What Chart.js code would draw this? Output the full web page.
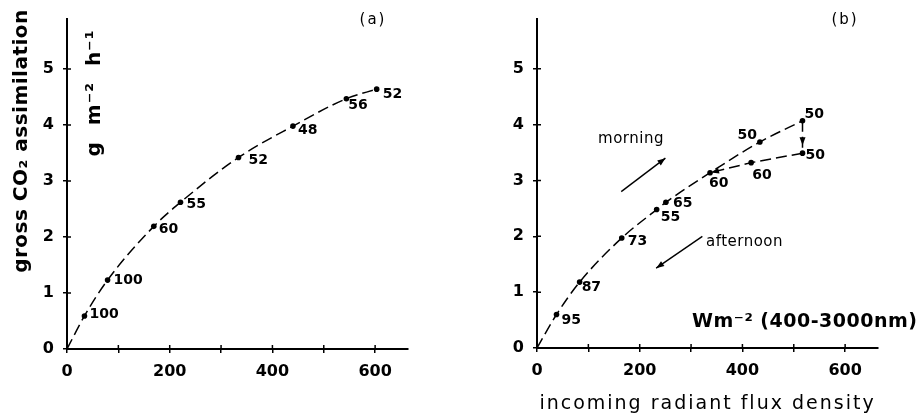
<!DOCTYPE html>
<html>
<head>
<meta charset="utf-8">
<script src="https://cdn.jsdelivr.net/npm/chart.js@4.4.1/dist/chart.umd.min.js"></script>
<style>
  html, body { margin: 0; padding: 0; background: #fff; }
  #wrap { position: relative; width: 920px; height: 419px; }
  canvas { position: absolute; top: 0; }
  #chartA { left: 0; }
  #chartB { left: 460px; }
</style>
</head>
<body>
<div id="wrap">
  <canvas id="chartA" width="460" height="419"></canvas>
  <canvas id="chartB" width="460" height="419"></canvas>
</div>
<script>
// ---- shared axis ticks ----
const xTickValues = [0, 100, 200, 300, 400, 500, 600];
const xTickLabels = ['0', '', '200', '', '400', '', '600'];
const yTickValues = [0, 1, 2, 3, 4, 5];
const yTickLabels = ['0', '1', '2', '3', '4', '5'];

// ---- panel (a): radiant flux (W m-2) vs gross CO2 assimilation (g m-2 h-1) ----
const fluxA = [34, 79, 169, 221, 334, 440, 544, 603];
const co2A  = [0.59, 1.23, 2.19, 2.62, 3.42, 3.98, 4.47, 4.64];
const tagsA = ['100', '100', '60', '55', '52', '48', '56', '52'];

// ---- panel (b): one day, morning rise and afternoon return ----
const fluxB = [38, 83, 165, 233, 251, 337, 434, 517, 517, 417];
const co2B  = [0.60, 1.18, 1.97, 2.48, 2.61, 3.14, 3.69, 4.07, 3.49, 3.32];
const tagsB = ['95', '87', '73', '55', '65', '60', '50', '50', '50', '60'];
const morningIdxB   = [0, 1, 2, 3, 4, 5, 6, 7];  // order along the morning branch
const dropIdxB      = [7, 8];                     // midday drop
const afternoonIdxB = [8, 9, 5];                  // afternoon branch back down

// curves start at the origin
const curveStart = { x: 0, y: 0 };

const FONT = '"DejaVu Sans", sans-serif';
const pts = (xs, ys, idx) => (idx || xs.map((_, i) => i)).map(i => ({ x: xs[i], y: ys[i] }));

// label offsets (px) and alignment for the numbers beside each point
const tagPlaceA = [[5,-2,'left'],[6,0,'left'],[5,3,'left'],[6,2,'left'],[10,3,'left'],[5,4,'left'],[2,7,'left'],[6,5,'left']];
const tagPlaceB = [[5,6,'left'],[2,5,'left'],[6,3,'left'],[4,8,'left'],[7,1,'left'],[-1,11,'left'],[-3,-7,'right'],[2,-6,'left'],[3,2,'left'],[1,13,'left']];

// draws crossing tick marks, point numbers, arrows and free text
const decorations = {
  id: 'decorations',
  afterDraw(chart, args, opts) {
    const ctx = chart.ctx;
    const xs = chart.scales.x, ys = chart.scales.y;
    const area = chart.chartArea;
    ctx.save();
    ctx.strokeStyle = '#000';
    ctx.fillStyle = '#000';
    // inner half of the crossing tick marks
    ctx.lineWidth = 1.5;
    ctx.beginPath();
    xTickValues.forEach(v => {
      const p = xs.getPixelForValue(v);
      if (v > 0) { ctx.moveTo(p, area.bottom); ctx.lineTo(p, area.bottom - 4); }
    });
    yTickValues.forEach(v => {
      const p = ys.getPixelForValue(v);
      if (v > 0) { ctx.moveTo(area.left, p); ctx.lineTo(area.left + 4, p); }
    });
    ctx.stroke();

    // numbers beside the points
    const meta = chart.getDatasetMeta(opts.pointDataset);
    ctx.font = 'bold 14px ' + FONT;
    ctx.textBaseline = 'middle';
    meta.data.forEach((el, i) => {
      const [dx, dy, align] = opts.place[i];
      ctx.textAlign = align;
      ctx.fillText(opts.tags[i], el.x + dx, el.y + dy);
    });

    // arrows
    const head = (x1, y1, x2, y2, len, half) => {
      const a = Math.atan2(y2 - y1, x2 - x1);
      ctx.beginPath();
      ctx.moveTo(x2, y2);
      ctx.lineTo(x2 - len * Math.cos(a) + half * Math.sin(a), y2 - len * Math.sin(a) - half * Math.cos(a));
      ctx.lineTo(x2 - len * Math.cos(a) - half * Math.sin(a), y2 - len * Math.sin(a) + half * Math.cos(a));
      ctx.closePath();
      ctx.fill();
    };
    (opts.arrows || []).forEach(ar => {
      const x1 = xs.getPixelForValue(ar.from[0]), y1 = ys.getPixelForValue(ar.from[1]);
      let x2 = xs.getPixelForValue(ar.to[0]), y2 = ys.getPixelForValue(ar.to[1]);
      if (ar.stop) {
        const d = Math.hypot(x2 - x1, y2 - y1);
        x2 -= (x2 - x1) / d * ar.stop; y2 -= (y2 - y1) / d * ar.stop;
      }
      if (ar.line) {
        ctx.lineWidth = 1.4;
        ctx.setLineDash([]);
        ctx.beginPath(); ctx.moveTo(x1, y1); ctx.lineTo(x2, y2); ctx.stroke();
      }
      head(x1, y1, x2, y2, 8, 3);
    });

    // free text
    (opts.texts || []).forEach(t => {
      let x, y;
      if (t.data) { x = xs.getPixelForValue(t.data[0]); y = ys.getPixelForValue(t.data[1]); }
      else if (t.centerX) { x = (area.left + area.right) / 2; y = t.y; }
      else { x = t.px[0]; y = t.px[1]; }
      ctx.save();
      ctx.translate(x, y);
      if (t.rot) ctx.rotate(t.rot * Math.PI / 180);
      ctx.font = t.font;
      if (t.spacing) ctx.letterSpacing = t.spacing;
      ctx.textAlign = t.align || 'center';
      ctx.textBaseline = 'middle';
      ctx.fillText(t.text, 0, 0);
      ctx.restore();
    });
    ctx.restore();
  }
};

function dashed(data, tension) {
  return {
    data, showLine: true, borderColor: '#000', borderWidth: 1.5, borderDash: [11, 5],
    pointRadius: 0, pointHoverRadius: 0, tension: tension, cubicInterpolationMode: tension ? 'monotone' : 'default', fill: false
  };
}

function makeChart(canvasId, datasets, panel) {
  return new Chart(document.getElementById(canvasId), {
    type: 'scatter',
    data: { datasets },
    plugins: [decorations],
    options: {
      responsive: false,
      animation: false,
      devicePixelRatio: 1,
      events: [],
      layout: { padding: { left: 0, top: panel.top, right: panel.right, bottom: 0 } },
      plugins: {
        legend: { display: false },
        tooltip: { enabled: false },
        decorations: panel.deco
      },
      scales: {
        x: {
          type: 'linear', min: 0, max: 664,
          afterBuildTicks: s => { s.ticks = xTickValues.map(v => ({ value: v })); },
          afterFit: s => { s.height = panel.xHeight; },
          border: { display: true, color: '#000', width: 2 },
          grid: { display: true, drawOnChartArea: false, drawTicks: true, tickLength: 4, color: '#000', lineWidth: 1.5 },
          ticks: {
            autoSkip: false, maxRotation: 0, padding: 9, color: '#000',
            font: { family: FONT, weight: 'bold', size: 16 },
            callback: (v, i) => xTickLabels[i]
          }
        },
        y: {
          type: 'linear', min: 0, max: 5.9,
          afterBuildTicks: s => { s.ticks = yTickValues.map(v => ({ value: v })); },
          afterFit: s => { s.width = panel.yWidth; },
          border: { display: true, color: '#000', width: 2 },
          grid: { display: true, drawOnChartArea: false, drawTicks: true, tickLength: 4, color: '#000', lineWidth: 1.5 },
          ticks: {
            padding: 9, color: '#000',
            font: { family: FONT, weight: 'bold', size: 16 },
            callback: (v, i) => yTickLabels[i]
          }
        }
      }
    }
  });
}

// ---- panel (a) ----
const pointsA = pts(fluxA, co2A);
makeChart('chartA', [
  dashed([curveStart, ...pointsA], 0.4),
  { data: pointsA, pointRadius: 2.8, pointBackgroundColor: '#000', pointBorderWidth: 0, showLine: false }
], {
  top: 11, right: 52, yWidth: 67, xHeight: 70,
  deco: {
    pointDataset: 1, tags: tagsA, place: tagPlaceA,
    texts: [
      { text: 'gross CO₂ assimilation', px: [22, 141], rot: -90, font: 'bold 20px ' + FONT, spacing: '0.5px' },
      { text: 'g  m⁻²  h⁻¹', px: [95, 93], rot: -90, font: 'bold 20px ' + FONT, spacing: '1px' },
      { text: '(a)', px: [373, 20], font: '15px ' + FONT, spacing: '2px' }
    ]
  }
});

// ---- panel (b) ----
const pointsB = pts(fluxB, co2B);
makeChart('chartB', [
  dashed([curveStart, ...pts(fluxB, co2B, morningIdxB)], 0.4),
  dashed(pts(fluxB, co2B, dropIdxB), 0),
  dashed(pts(fluxB, co2B, afternoonIdxB), 0),
  { data: pointsB, pointRadius: 2.8, pointBackgroundColor: '#000', pointBorderWidth: 0, showLine: false }
], {
  top: 10, right: 42, yWidth: 77, xHeight: 71,
  deco: {
    pointDataset: 3, tags: tagsB, place: tagPlaceB,
    arrows: [
      { from: [164, 2.80], to: [250, 3.40], line: true },
      { from: [322, 2.00], to: [232, 1.43], line: true },
      { from: [fluxB[7], co2B[7]], to: [fluxB[8], co2B[8]], stop: 8 },
      { from: [fluxB[9], co2B[9]], to: [fluxB[5], co2B[5]], stop: 1 }
    ],
    texts: [
      { text: 'morning', data: [183, 3.74], font: '15px ' + FONT, spacing: '0.5px' },
      { text: 'afternoon', data: [329, 1.90], align: 'left', font: '15px ' + FONT, spacing: '0.5px' },
      { text: 'Wm⁻² (400-3000nm)', data: [302, 0.47], align: 'left', font: 'bold 19px ' + FONT, spacing: '0.5px' },
      { text: 'incoming radiant flux density', centerX: true, y: 404, font: '19px ' + FONT, spacing: '2px' },
      { text: '(b)', px: [385, 20], font: '15px ' + FONT, spacing: '2px' }
    ]
  }
});
</script>
</body>
</html>
